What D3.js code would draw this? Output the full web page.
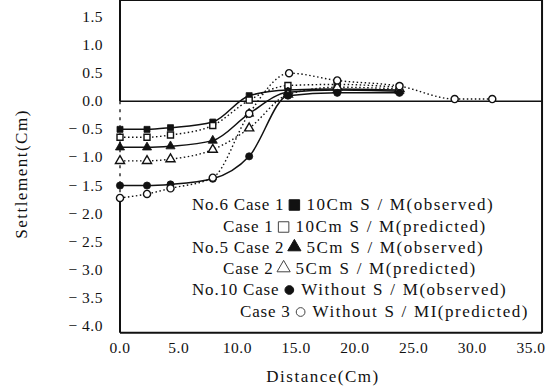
<!DOCTYPE html>
<html>
<head>
<meta charset="utf-8">
<script src="https://cdn.jsdelivr.net/npm/d3@7"></script>
<style>
  body { margin: 0; background: #fff; }
  svg { display: block; }
  svg text { font-family: "Liberation Serif", "DejaVu Serif", serif; }
</style>
</head>
<body>
<svg id="svg" width="550" height="386"></svg>
<script>
// distances where settlement was measured
var xObs = [0, 2.3, 4.3, 7.9, 11.0, 14.3, 18.5, 23.8];
var xPred3 = [0, 2.3, 4.3, 7.9, 11.0, 14.4, 18.5, 23.8, 28.5, 31.7];

// settlement values (Cm)
var obs10 = [-0.50, -0.50, -0.47, -0.37, 0.10, 0.20, 0.22, 0.20];
var pred10 = [-0.64, -0.64, -0.60, -0.43, 0.02, 0.28, 0.30, 0.25];
var obs5 = [-0.82, -0.82, -0.80, -0.70, -0.22, 0.16, 0.20, 0.18];
var pred5 = [-1.06, -1.06, -1.03, -0.86, -0.48, 0.12, 0.25, 0.22];
var obs0 = [-1.50, -1.50, -1.48, -1.38, -0.98, 0.10, 0.15, 0.15];
var pred0 = [-1.72, -1.65, -1.55, -1.36, -0.22, 0.50, 0.37, 0.27, 0.04, 0.04];

var xTicks = [0, 5, 10, 15, 20, 25, 30, 35];
var yTicks = [1.5, 1.0, 0.5, 0.0, -0.5, -1.0, -1.5, -2.0, -2.5, -3.0, -3.5, -4.0];

var legendLeft = ["No.6 Case 1", "Case 1", "No.5 Case 2", "Case 2", "No.10 Case", "Case 3"];
var legendRight = ["10Cm S / M(observed)", "10Cm S / M(predicted)", "5Cm S / M(observed)",
                   "5Cm S / M(predicted)", "Without S / M(observed)", "Without S / MI(predicted)"];

var series = [
    {xs: xObs, ys: obs10, shape: d3.symbolSquare, filled: true, dotted: false},
    {xs: xObs, ys: pred10, shape: d3.symbolSquare, filled: false, dotted: true},
    {xs: xObs, ys: obs5, shape: d3.symbolTriangle, filled: true, dotted: false},
    {xs: xObs, ys: pred5, shape: d3.symbolTriangle, filled: false, dotted: true},
    {xs: xObs, ys: obs0, shape: d3.symbolCircle, filled: true, dotted: false},
    {xs: xPred3, ys: pred0, shape: d3.symbolCircle, filled: false, dotted: true}
];

var svg = d3.select("#svg");

var x = d3.scaleLinear().domain([0, 35]).range([120, 531]);
var y = d3.scaleLinear().domain([-4, 1.5]).range([326, 17]);

var left = x(0), right = x(35.94), top = y(1.54), bottom = y(-4.12);

// frame
var frame = svg.append("g").attr("stroke", "#111").attr("stroke-width", 2).attr("fill", "none");
frame.append("line").attr("x1", left).attr("x2", right).attr("y1", top).attr("y2", top);
frame.append("line").attr("x1", right).attr("x2", right).attr("y1", top).attr("y2", bottom);
frame.append("line").attr("x1", left).attr("x2", right).attr("y1", bottom).attr("y2", bottom);
frame.append("line").attr("x1", left).attr("x2", left).attr("y1", top).attr("y2", y(0));
frame.append("line").attr("x1", left).attr("x2", left).attr("y1", y(-1.72)).attr("y2", bottom);
frame.append("line").attr("x1", left).attr("x2", left).attr("y1", y(0)).attr("y2", y(-1.72))
    .attr("stroke-width", 1.3).attr("stroke-dasharray", "3,5");

// zero line
svg.append("line")
    .attr("x1", left).attr("x2", right)
    .attr("y1", y(0)).attr("y2", y(0))
    .attr("stroke", "#111").attr("stroke-width", 1.6);

// tick labels
svg.append("g").selectAll("text").data(yTicks).enter()
    .append("text")
    .attr("x", 103)
    .attr("y", function(d){ return y(d) + 5; })
    .attr("text-anchor", "end")
    .attr("font-size", 15.5)
    .attr("letter-spacing", 0.5)
    .attr("fill", "#111")
    .text(function(d){ return (d < 0 ? "\u2212 " : "") + Math.abs(d).toFixed(1); });

svg.append("g").selectAll("text").data(xTicks).enter()
    .append("text")
    .attr("x", function(d){ return x(d); })
    .attr("y", 353)
    .attr("text-anchor", "middle")
    .attr("font-size", 15.5)
    .attr("letter-spacing", 0.5)
    .attr("fill", "#111")
    .text(function(d){ return d.toFixed(1); });

// axis titles
svg.append("text")
    .attr("x", 323).attr("y", 382)
    .attr("text-anchor", "middle")
    .attr("font-size", 17)
    .attr("letter-spacing", 1.5)
    .attr("fill", "#111")
    .text("Distance(Cm)");

svg.append("text")
    .attr("transform", "translate(27,174) rotate(-90)")
    .attr("text-anchor", "middle")
    .attr("font-size", 17)
    .attr("letter-spacing", 1.5)
    .attr("fill", "#111")
    .text("Settlement(Cm)");

// lines
var line = d3.line().curve(d3.curveMonotoneX);

var plot = svg.append("g");
series.forEach(function(s){
    var pts = s.xs.map(function(v, i){ return [x(v), y(s.ys[i])]; });
    plot.append("path")
        .attr("d", line(pts))
        .attr("fill", "none")
        .attr("stroke", "#111")
        .attr("stroke-width", s.dotted ? 1.4 : 1.5)
        .attr("stroke-dasharray", s.dotted ? "1.5,2.5" : null);
});

// markers
series.forEach(function(s){
    var sym = d3.symbol().type(s.shape).size(s.shape === d3.symbolCircle ? 40 : 36);
    plot.append("g").selectAll("path").data(s.ys).enter()
        .append("path")
        .attr("d", sym)
        .attr("transform", function(d, i){ return "translate(" + x(s.xs[i]) + "," + y(d) + ")"; })
        .attr("fill", s.filled ? "#111" : "#fff")
        .attr("stroke", "#111")
        .attr("stroke-width", s.filled ? 0.8 : 1.4);
});

// legend: each row is "left text  marker  right text"
var rowY = [205, 227, 248, 269, 290, 312];
var rowX = [192, 223, 192, 223, 192, 240];
var leg = svg.append("g").attr("font-size", 17).attr("fill", "#111");
legendLeft.forEach(function(txt, i){
    var t = leg.append("text")
        .attr("x", rowX[i]).attr("y", rowY[i] + 5)
        .attr("letter-spacing", 0.8)
        .text(txt);
    var w = t.node().getComputedTextLength();
    var mx = rowX[i] + w + 10;
    var s = series[i];
    var sz = s.shape === d3.symbolCircle ? 60 : (s.shape === d3.symbolTriangle ? 75 : 110);
    leg.append("path")
        .attr("d", d3.symbol().type(s.shape).size(sz)())
        .attr("transform", "translate(" + mx + "," + (rowY[i] - (s.shape === d3.symbolTriangle ? 1 : 0)) + ")")
        .attr("fill", s.filled ? "#111" : "none")
        .attr("stroke", s.filled ? "#111" : "#444")
        .attr("stroke-width", 1);
    leg.append("text")
        .attr("x", mx + 12).attr("y", rowY[i] + 5)
        .attr("letter-spacing", 1.5)
        .attr("word-spacing", 0.5)
        .text(legendRight[i]);
});
</script>
</body>
</html>
